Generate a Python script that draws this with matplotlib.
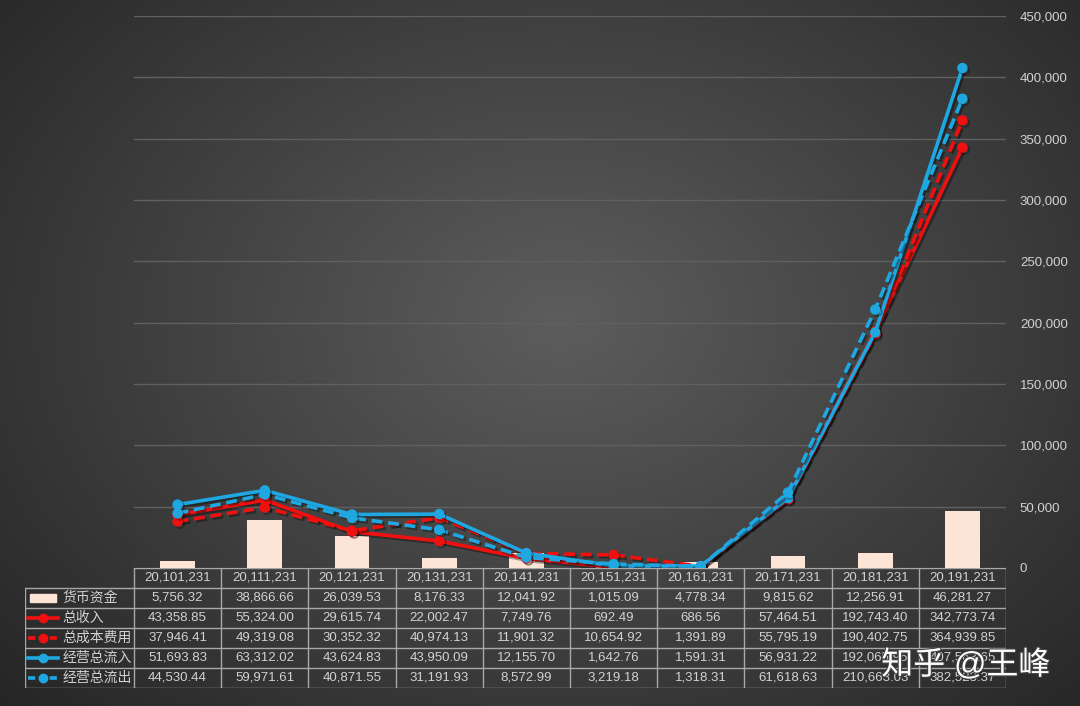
import matplotlib
matplotlib.use('Agg')
import matplotlib.pyplot as plt
import numpy as np
from matplotlib.lines import Line2D
from matplotlib.patches import Rectangle
import matplotlib.patheffects as pe

plt.rcParams['font.family'] = ['Liberation Sans', 'Noto Sans CJK SC', 'DejaVu Sans']

# data
periods = ['20,101,231', '20,111,231', '20,121,231', '20,131,231', '20,141,231',
           '20,151,231', '20,161,231', '20,171,231', '20,181,231', '20,191,231']
cash = [5756.32, 38866.66, 26039.53, 8176.33, 12041.92, 1015.09, 4778.34, 9815.62, 12256.91, 46281.27]
revenue = [43358.85, 55324.00, 29615.74, 22002.47, 7749.76, 692.49, 686.56, 57464.51, 192743.40, 342773.74]
cost = [37946.41, 49319.08, 30352.32, 40974.13, 11901.32, 10654.92, 1391.89, 55795.19, 190402.75, 364939.85]
inflow = [51693.83, 63312.02, 43624.83, 43950.09, 12155.70, 1642.76, 1591.31, 56931.22, 192065.95, 407563.65]
outflow = [44530.44, 59971.61, 40871.55, 31191.93, 8572.99, 3219.18, 1318.31, 61618.63, 210663.03, 382523.37]
names = ['货币资金', '总收入', '总成本费用', '经营总流入', '经营总流出']

bar_col = '#fce4d6'
red = '#f01010'
blue = '#1ea7e1'
txt_col = '#d2d2d2'
W, H = 1080, 706

fig = plt.figure(figsize=(W / 100, H / 100), dpi=100)

# radial gradient background
bg = fig.add_axes([0, 0, 1, 1], zorder=-10)
yy, xx = np.mgrid[0:H, 0:W]
r = np.sqrt(((xx - 560) / 700.0) ** 2 + ((yy - 320) / 520.0) ** 2)
g = np.clip(0.365 - 0.20 * r, 0.13, 1)
bg.imshow(np.dstack([g, g, g]), aspect='auto', extent=[0, 1, 0, 1])
bg.axis('off')

# main chart
x = np.arange(len(periods))
ax = fig.add_axes([134 / W, (H - 568) / H, (1006 - 134) / W, (568 - 16) / H])
ax.patch.set_alpha(0)
ax.bar(x, cash, width=0.4, color=bar_col, zorder=2)

shadow = [pe.SimpleLineShadow(offset=(1.5, -1.5), shadow_color='black', alpha=0.35), pe.Normal()]
ax.plot(x, revenue, color=red, lw=2.6, marker='o', ms=6.5, zorder=3, path_effects=shadow)
ax.plot(x, cost, color=red, lw=2.6, ls=(0, (3, 1.6)), marker='o', ms=6.5, zorder=3, path_effects=shadow)
ax.plot(x, inflow, color=blue, lw=2.6, marker='o', ms=6.5, zorder=4, path_effects=shadow)
ax.plot(x, outflow, color=blue, lw=2.6, ls=(0, (3, 1.6)), marker='o', ms=6.5, zorder=4, path_effects=shadow)

ax.set_xlim(-0.5, len(periods) - 0.5)
ax.set_ylim(0, 450000)
ax.set_yticks(np.arange(0, 450001, 50000))
ax.yaxis.tick_right()
ax.set_yticklabels([f'{v:,}' for v in range(0, 450001, 50000)], color=txt_col, fontsize=9.5)
ax.tick_params(axis='y', length=0, pad=10)
ax.set_xticks([])
ax.grid(axis='y', color='#606060', lw=1, zorder=0)
for s in ax.spines.values():
    s.set_visible(False)

# data table
tax = fig.add_axes([25 / W, (H - 688) / H, (1006 - 25) / W, (688 - 568) / H])
tax.set_xlim(-1.75, len(periods) - 0.5)
tax.set_ylim(6, 0)
tax.axis('off')
lc = '#a8a8a8'
tax.plot([-0.5, len(periods) - 0.5], [0, 0], color=lc, lw=1)
for k in range(1, 7):
    tax.plot([-1.75, len(periods) - 0.5], [k, k], color=lc, lw=1)
tax.plot([-1.75, -1.75], [1, 6], color=lc, lw=1)
for c in range(len(periods) + 1):
    tax.plot([c - 0.5, c - 0.5], [0, 6], color=lc, lw=1)
for i, p in enumerate(periods):
    tax.text(i, 0.5, p, ha='center', va='center', color=txt_col, fontsize=9.5)
series = [cash, revenue, cost, inflow, outflow]
for row, vals in enumerate(series):
    for i, v in enumerate(vals):
        tax.text(i, row + 1.5, f'{v:,.2f}', ha='center', va='center', color=txt_col, fontsize=9.5)
    tax.text(-1.32, row + 1.5, names[row], ha='left', va='center', color=txt_col, fontsize=10)

# legend keys in the table
tax.add_patch(Rectangle((-1.69, 1.3), 0.3, 0.42, color=bar_col))
keys = [(red, '-'), (red, (0, (2, 1))), (blue, '-'), (blue, (0, (2, 1)))]
for k, (c, ls) in enumerate(keys):
    yk = k + 2.5
    tax.add_line(Line2D([-1.71, -1.37], [yk, yk], color=c, lw=2.6, ls=ls))
    tax.plot([-1.54], [yk], 'o', color=c, ms=6)

# watermark
fig.text(0.816, 0.045, '知乎 @王峰', color='white', fontsize=23,
         path_effects=[pe.withStroke(linewidth=1.5, foreground='#444444')])

fig.savefig('out.png', dpi=100)
